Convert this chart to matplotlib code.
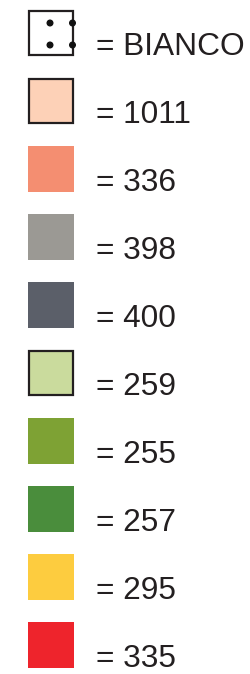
import matplotlib
matplotlib.use('Agg')
from matplotlib import pyplot as plt
from matplotlib.patches import Rectangle, Circle

# legend entries, top to bottom
labels = ["BIANCO", "1011", "336", "398", "400", "259", "255", "257", "295", "335"]
colors = ["#FFFFFF", "#FDD1B7", "#F48E71", "#9B9994", "#5B5F69",
          "#CADB9D", "#7EA234", "#4A8D3C", "#FDCC3F", "#EE242C"]
outlined = [True, True, False, False, False, True, False, False, False, False]

W, H = 251, 674
fig = plt.figure(figsize=(W / 100, H / 100), dpi=100)
ax = fig.add_axes([0, 0, 1, 1])
ax.set_xlim(0, W)
ax.set_ylim(H, 0)
ax.axis('off')

x0, size, step, top0 = 28, 46, 68, 10

for i, (lab, col, edge) in enumerate(zip(labels, colors, outlined)):
    top = top0 + i * step
    if edge:
        ax.add_patch(Rectangle((x0 + 1, top + 1), size - 2, size - 2, facecolor=col,
                               edgecolor="#231F20", linewidth=1.6))
    else:
        ax.add_patch(Rectangle((x0, top), size, size, facecolor=col, edgecolor='none'))
    if lab == "BIANCO":
        # dotted pattern of the white swatch
        for dx in (50, 72.5):
            for dy in (23, 45):
                ax.add_patch(Circle((dx, top0 + dy - 10), 2.8, color="#111111"))
    ax.text(96, top + size - 1, "= " + lab, fontsize=22.8, family="Liberation Sans",
            color="#231F20", va='baseline', ha='left')

plt.savefig("out.png", dpi=100)
plt.close()
